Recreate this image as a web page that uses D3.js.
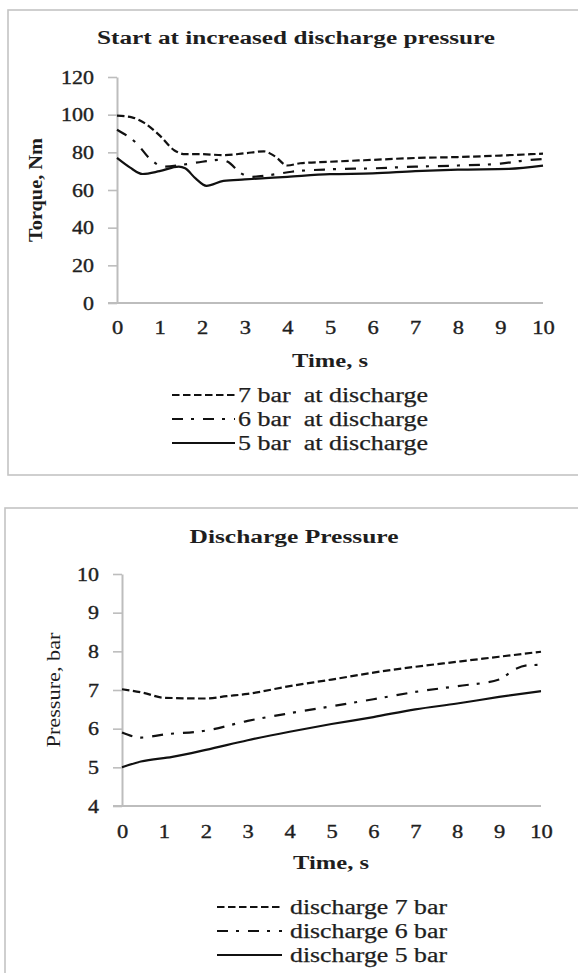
<!DOCTYPE html>
<html>
<head>
<meta charset="utf-8">
<script src="https://cdn.jsdelivr.net/npm/d3@7"></script>
<style>
  body { margin: 0; background: #fff; }
  svg text { font-family: "Liberation Serif", "DejaVu Serif", serif; fill: #1e1e1e; }
</style>
</head>
<body>
<svg width="578" height="973"></svg>
<script>
// torque chart, time in s, torque in Nm
var torqueTime7 = [0, 0.35, 0.65, 1, 1.35, 1.6, 2, 2.5, 3, 3.45, 3.7, 4, 4.3, 5, 6, 7, 8, 9, 10];
var torque7     = [99.5, 98.6, 95.5, 89, 81, 79, 79, 78.5, 79.5, 80.5, 78, 73, 74.2, 75, 76, 77, 77.5, 78.3, 79.3];
var torqueTime6 = [0, 0.45, 0.8, 1.1, 1.5, 2, 2.45, 2.6, 2.9, 3.15, 3.6, 4.1, 5, 6, 7, 8, 9, 9.5, 10];
var torque6     = [92, 85, 76, 72.4, 73.3, 75, 76, 75, 69, 67, 68, 69.7, 71, 71.5, 72.4, 73, 74, 75.5, 76.5];
var torqueTime5 = [0, 0.3, 0.6, 1, 1.45, 1.6, 1.85, 2.1, 2.5, 3, 4, 5, 6, 7, 8, 9.2, 10];
var torque5     = [77, 72, 68.5, 70, 72.4, 71.5, 66, 62.2, 64.8, 65.6, 67, 68.4, 68.8, 70, 70.8, 71.2, 72.9];

// discharge pressure chart, time in s, pressure in bar
var pressTime7 = [0, 0.5, 1, 2, 2.5, 3, 4, 5, 6, 7, 8, 9, 10];
var press7     = [7.02, 6.93, 6.8, 6.78, 6.84, 6.9, 7.1, 7.27, 7.45, 7.6, 7.73, 7.86, 7.99];
var pressTime6 = [0, 0.45, 1, 2, 3, 4, 5, 6, 7, 8, 9, 9.4, 9.7, 10];
var press6     = [5.9, 5.77, 5.85, 5.95, 6.2, 6.4, 6.58, 6.76, 6.95, 7.1, 7.27, 7.55, 7.64, 7.65];
var pressTime5 = [0, 0.45, 1.2, 2, 3, 4, 5, 6, 7, 8, 9, 10];
var press5     = [5.0, 5.15, 5.27, 5.45, 5.7, 5.92, 6.12, 6.3, 6.5, 6.65, 6.82, 6.97];

var timeTicks = [0, 1, 2, 3, 4, 5, 6, 7, 8, 9, 10];
var torqueTicks = [0, 20, 40, 60, 80, 100, 120];
var pressTicks = [4, 5, 6, 7, 8, 9, 10];

var torqueLegend = ["7 bar  at discharge", "6 bar  at discharge", "5 bar  at discharge"];
var pressLegend = ["discharge 7 bar", "discharge 6 bar", "discharge 5 bar"];

var dashes = ["7.5,3.5", "11,8,3,9", null];

var FONT = '"Liberation Serif", "DejaVu Serif", serif';

var svg = d3.select("svg");

function zip(t, v) {
  return t.map(function(d, i) { return [d, v[i]]; });
}

// squeeze / stretch text to the width seen in the picture
function fit(sel, len) {
  sel.attr("textLength", len).attr("lengthAdjust", "spacingAndGlyphs");
}
function widen(sel, k) {
  sel.each(function() {
    var w = this.getComputedTextLength();
    d3.select(this).attr("textLength", w * k).attr("lengthAdjust", "spacingAndGlyphs");
  });
}

function drawChart(c) {
  var g = svg.append("g");

  g.append("rect")
      .attr("x", c.box[0]).attr("y", c.box[1])
      .attr("width", c.box[2]).attr("height", c.box[3])
      .attr("fill", "none")
      .attr("stroke", "#c4c4c4")
      .attr("stroke-width", 1.6);

  var x = d3.scaleLinear().domain([0, 10]).range(c.xr);
  var y = d3.scaleLinear().domain(c.yd).range(c.yr);

  var yAxis = g.append("g")
      .attr("transform", "translate(" + c.xr[0] + ",0)")
      .call(d3.axisLeft(y).tickValues(c.yTicks).tickFormat(d3.format("d"))
          .tickSize(9).tickPadding(14).tickSizeOuter(0));
  yAxis.attr("font-family", FONT).attr("font-size", 18);
  yAxis.select(".domain").attr("stroke", "#bdbdbd").attr("stroke-width", 2);
  yAxis.selectAll(".tick line").attr("stroke", "#bdbdbd").attr("stroke-width", 1.6);
  yAxis.selectAll("text")
      .style("font-family", FONT).style("font-size", "18px")
      .attr("fill", "#222").attr("stroke", "#222").attr("stroke-width", 0.35)
      .attr("dy", "0.35em");
  widen(yAxis.selectAll("text"), 1.22);

  var xAxis = g.append("g")
      .attr("transform", "translate(0," + c.yr[0] + ")")
      .call(d3.axisBottom(x).tickValues(timeTicks).tickSize(0).tickPadding(18).tickSizeOuter(0));
  xAxis.attr("font-family", FONT).attr("font-size", 18);
  xAxis.select(".domain").attr("stroke", "#bdbdbd").attr("stroke-width", 2)
      .attr("d", "M" + (c.xr[0] - 9) + ",0H" + c.xr[1]);
  xAxis.selectAll("text")
      .style("font-family", FONT).style("font-size", "18px")
      .attr("fill", "#222").attr("stroke", "#222").attr("stroke-width", 0.35)
      .attr("dy", "0.35em").attr("y", c.xLabY);
  widen(xAxis.selectAll("text"), 1.25);

  var line = d3.line()
      .x(function(d) { return x(d[0]); })
      .y(function(d) { return y(d[1]); })
      .curve(d3.curveMonotoneX);

  c.series.forEach(function(s, i) {
    g.append("path")
        .attr("d", line(s))
        .attr("fill", "none")
        .attr("stroke", "#111")
        .attr("stroke-width", 2.2)
        .attr("stroke-dasharray", dashes[i]);
  });

  g.append("text")
      .attr("x", c.title[1]).attr("y", c.title[2])
      .attr("text-anchor", "middle").attr("dy", "0.35em")
      .style("font-family", FONT)
      .style("font-size", "18px").style("font-weight", "bold")
      .text(c.title[0])
      .call(fit, c.title[3]);

  g.append("text")
      .attr("x", c.xTitle[0]).attr("y", c.xTitle[1])
      .attr("text-anchor", "middle").attr("dy", "0.35em")
      .style("font-family", FONT)
      .style("font-size", "19px").style("font-weight", "bold")
      .text("Time, s")
      .call(fit, 76);

  g.append("text")
      .attr("transform", "translate(" + c.yTitle[1] + "," + c.yTitle[2] + ") rotate(-90)")
      .attr("text-anchor", "middle").attr("dy", "0.35em")
      .style("font-family", FONT)
      .style("font-size", "19px").style("font-weight", c.yTitle[4])
      .text(c.yTitle[0])
      .call(fit, c.yTitle[3]);

  var leg = g.append("g");
  c.legend.forEach(function(name, i) {
    var ly = c.legY[i];
    leg.append("line")
        .attr("x1", c.legX[0]).attr("x2", c.legX[1])
        .attr("y1", ly).attr("y2", ly)
        .attr("stroke", "#111").attr("stroke-width", 2.2)
        .attr("stroke-dasharray", dashes[i]);
    leg.append("text")
        .attr("x", c.legX[2]).attr("y", ly).attr("dy", "0.35em")
        .style("font-family", FONT)
        .style("font-size", "20px").style("white-space", "pre")
        .attr("stroke", "#1e1e1e").attr("stroke-width", 0.25)
        .text(name)
        .call(fit, c.legX[3]);
  });
}

drawChart({
  box: [8, 10, 600, 465],
  xr: [117, 543], yd: [0, 120], yr: [303, 77],
  yTicks: torqueTicks, xLabY: 25,
  series: [zip(torqueTime7, torque7), zip(torqueTime6, torque6), zip(torqueTime5, torque5)],
  title: ["Start at increased discharge pressure", 296, 38, 398],
  xTitle: [330, 360],
  yTitle: ["Torque, Nm", 35, 190, 104, "bold"],
  legend: torqueLegend,
  legX: [172, 235, 238, 190],
  legY: [395, 419, 443]
});

drawChart({
  box: [5, 508, 600, 500],
  xr: [122, 541], yd: [4, 10], yr: [806, 574],
  yTicks: pressTicks, xLabY: 26,
  series: [zip(pressTime7, press7), zip(pressTime6, press6), zip(pressTime5, press5)],
  title: ["Discharge Pressure", 294, 537, 209],
  xTitle: [331, 862],
  yTitle: ["Pressure, bar", 53, 690, 115, "normal"],
  legend: pressLegend,
  legX: [217, 282, 290, 157],
  legY: [907, 931, 955]
});
</script>
</body>
</html>
